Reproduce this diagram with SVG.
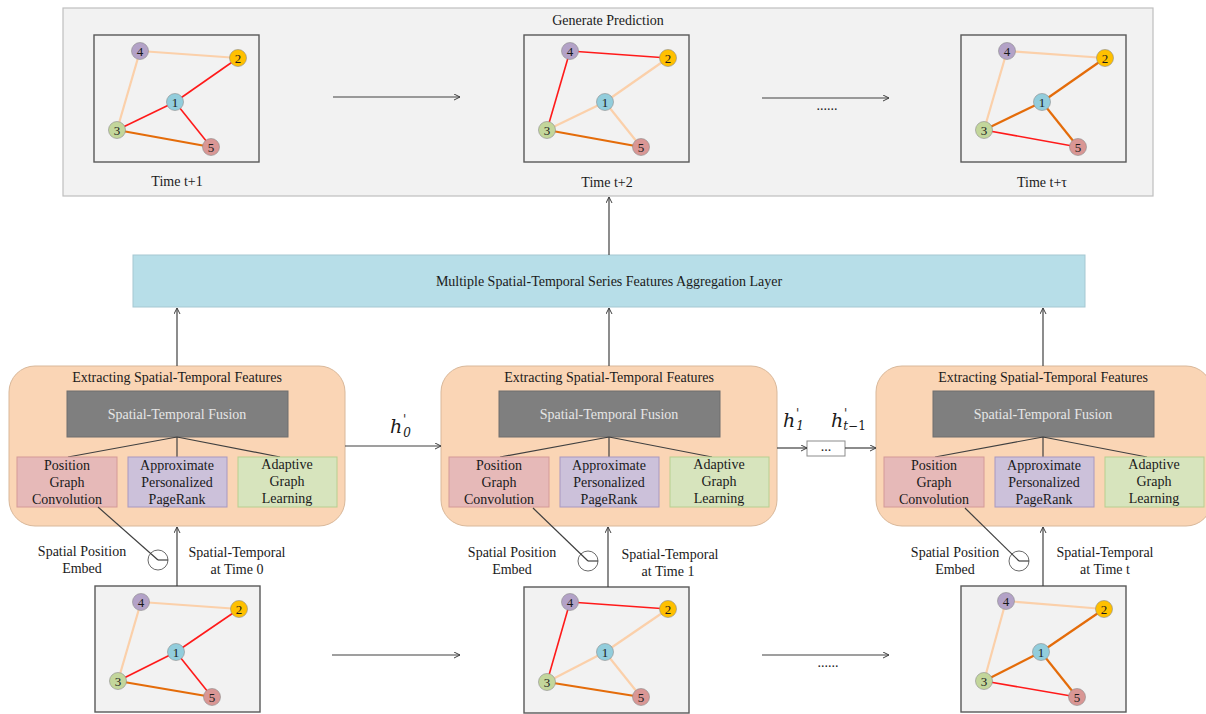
<svg xmlns="http://www.w3.org/2000/svg" width="1206" height="714" viewBox="0 0 1206 714">
<defs>
<marker id="ah" markerWidth="8" markerHeight="8" refX="6" refY="3" orient="auto" markerUnits="userSpaceOnUse">
<path d="M0,0 L6,3 L0,6" fill="none" stroke="#404040" stroke-width="1"/>
</marker>
<style>
text{font-family:"Liberation Serif","Times New Roman",serif;fill:#1a1a1a;font-size:14px;text-anchor:middle}
.panel{fill:#f2f2f2;stroke:#bfbfbf;stroke-width:1.2}
.gbox{fill:#f2f2f2;stroke:#595959;stroke-width:1.4}
.conn{stroke:#404040;stroke-width:1.2;fill:none}
.arr{stroke:#404040;stroke-width:1.2;fill:none;marker-end:url(#ah)}
.ep{stroke:#fbd0aa;stroke-width:2.2}
.er{stroke:#ff1a1a;stroke-width:1.6}
.eo{stroke:#e46c0a;stroke-width:2.2}
.n{stroke:#8c8c8c;stroke-width:0.6}
.n1{fill:#92cddc}.n2{fill:#ffc000}.n3{fill:#c3d69b}.n4{fill:#b3a2c7}.n5{fill:#d99694}
.nt{font-size:13px}
.agg{fill:#b7dee8;stroke:#a5c8d2;stroke-width:1}
.mod{fill:#fad5b5;stroke:#d9b89a;stroke-width:1}
.fus{fill:#7f7f7f;stroke:#6f6f6f;stroke-width:1}
.fust{fill:#e6e6e6}
.pgc{fill:#e6b9b8;stroke:#d49a98;stroke-width:1}
.appr{fill:#ccc1da;stroke:#a898c0;stroke-width:1}
.agl{fill:#d7e4bd;stroke:#b8cf90;stroke-width:1}
.emb{fill:#ffffff;stroke:#595959;stroke-width:0.9}
.hl{font-family:"DejaVu Serif","Liberation Serif",serif;font-style:italic;font-size:19px;text-anchor:start}
.sub{font-size:12px}
.pr{font-size:12px;font-style:normal}
</style>
</defs>

<g id="prediction-panel">
<rect class="panel" x="63" y="8" width="1090" height="188"/>
<text x="608" y="25" font-size="13.5">Generate Prediction</text>
</g>

<g id="graph-t1" transform="translate(94,35)">
<rect class="gbox" x="0" y="0" width="165" height="127"/>
<line class="ep" x1="46" y1="16" x2="144" y2="23"/>
<line class="ep" x1="46" y1="16" x2="23" y2="95"/>
<line class="er" x1="144" y1="23" x2="81" y2="67"/>
<line class="er" x1="81" y1="67" x2="23" y2="95"/>
<line class="er" x1="81" y1="67" x2="117" y2="112"/>
<line class="eo" x1="23" y1="95" x2="117" y2="112"/>
<circle class="n n4" cx="46" cy="16" r="8.5"/><text class="nt" x="46" y="20.5">4</text>
<circle class="n n2" cx="144" cy="23" r="8.5"/><text class="nt" x="144" y="27.5">2</text>
<circle class="n n1" cx="81" cy="67" r="8.5"/><text class="nt" x="81" y="71.5">1</text>
<circle class="n n3" cx="23" cy="95" r="8.5"/><text class="nt" x="23" y="99.5">3</text>
<circle class="n n5" cx="117" cy="112" r="8.5"/><text class="nt" x="117" y="116.5">5</text>
<text x="83" y="151">Time t+1</text>
</g>

<g id="graph-t2" transform="translate(524,35)">
<rect class="gbox" x="0" y="0" width="165" height="127"/>
<line class="er" x1="46" y1="16" x2="144" y2="23"/>
<line class="er" x1="46" y1="16" x2="23" y2="95"/>
<line class="ep" x1="144" y1="23" x2="81" y2="67"/>
<line class="ep" x1="81" y1="67" x2="23" y2="95"/>
<line class="ep" x1="81" y1="67" x2="117" y2="112"/>
<line class="eo" x1="23" y1="95" x2="117" y2="112"/>
<circle class="n n4" cx="46" cy="16" r="8.5"/><text class="nt" x="46" y="20.5">4</text>
<circle class="n n2" cx="144" cy="23" r="8.5"/><text class="nt" x="144" y="27.5">2</text>
<circle class="n n1" cx="81" cy="67" r="8.5"/><text class="nt" x="81" y="71.5">1</text>
<circle class="n n3" cx="23" cy="95" r="8.5"/><text class="nt" x="23" y="99.5">3</text>
<circle class="n n5" cx="117" cy="112" r="8.5"/><text class="nt" x="117" y="116.5">5</text>
<text x="83" y="152">Time t+2</text>
</g>

<g id="graph-ttau" transform="translate(961,35)">
<rect class="gbox" x="0" y="0" width="165" height="127"/>
<line class="ep" x1="46" y1="16" x2="144" y2="23"/>
<line class="ep" x1="46" y1="16" x2="23" y2="95"/>
<line class="eo" x1="144" y1="23" x2="81" y2="67"/>
<line class="eo" x1="81" y1="67" x2="23" y2="95"/>
<line class="eo" x1="81" y1="67" x2="117" y2="112"/>
<line class="er" x1="23" y1="95" x2="117" y2="112"/>
<circle class="n n4" cx="46" cy="16" r="8.5"/><text class="nt" x="46" y="20.5">4</text>
<circle class="n n2" cx="144" cy="23" r="8.5"/><text class="nt" x="144" y="27.5">2</text>
<circle class="n n1" cx="81" cy="67" r="8.5"/><text class="nt" x="81" y="71.5">1</text>
<circle class="n n3" cx="23" cy="95" r="8.5"/><text class="nt" x="23" y="99.5">3</text>
<circle class="n n5" cx="117" cy="112" r="8.5"/><text class="nt" x="117" y="116.5">5</text>
<text x="81" y="152">Time t+τ</text>
</g>

<g id="aggregation">
<rect class="agg" x="133" y="255" width="952" height="52"/>
<text x="609" y="286">Multiple Spatial-Temporal Series Features Aggregation Layer</text>
</g>

<g id="module-0">
<rect class="mod" x="9" y="366" width="336" height="160" rx="26" ry="26"/>
<text x="177" y="382" font-size="13.5">Extracting Spatial-Temporal Features</text>
<rect class="fus" x="67" y="391" width="221" height="46"/>
<text class="fust" x="177" y="419">Spatial-Temporal Fusion</text>
<line class="conn" x1="177" y1="437" x2="68" y2="457"/>
<line class="conn" x1="177" y1="437" x2="177" y2="457"/>
<line class="conn" x1="177" y1="437" x2="280" y2="457"/>
<rect class="pgc" x="17" y="457" width="100" height="50"/>
<text x="67" y="470">Position</text><text x="67" y="487">Graph</text><text x="67" y="504">Convolution</text>
<rect class="appr" x="128" y="457" width="99" height="50"/>
<text x="177" y="470">Approximate</text><text x="177" y="487">Personalized</text><text x="177" y="504">PageRank</text>
<rect class="agl" x="238" y="457" width="99" height="50"/>
<text x="287" y="469">Adaptive</text><text x="287" y="486">Graph</text><text x="287" y="503">Learning</text>
</g>

<g id="module-1">
<rect class="mod" x="441" y="366" width="336" height="160" rx="26" ry="26"/>
<text x="609" y="382" font-size="13.5">Extracting Spatial-Temporal Features</text>
<rect class="fus" x="499" y="391" width="221" height="46"/>
<text class="fust" x="609" y="419">Spatial-Temporal Fusion</text>
<line class="conn" x1="609" y1="437" x2="500" y2="457"/>
<line class="conn" x1="609" y1="437" x2="609" y2="457"/>
<line class="conn" x1="609" y1="437" x2="712" y2="457"/>
<rect class="pgc" x="449" y="457" width="100" height="50"/>
<text x="499" y="470">Position</text><text x="499" y="487">Graph</text><text x="499" y="504">Convolution</text>
<rect class="appr" x="560" y="457" width="99" height="50"/>
<text x="609" y="470">Approximate</text><text x="609" y="487">Personalized</text><text x="609" y="504">PageRank</text>
<rect class="agl" x="670" y="457" width="99" height="50"/>
<text x="719" y="469">Adaptive</text><text x="719" y="486">Graph</text><text x="719" y="503">Learning</text>
</g>

<g id="module-t">
<rect class="mod" x="876" y="366" width="336" height="160" rx="26" ry="26"/>
<text x="1043" y="382" font-size="13.5">Extracting Spatial-Temporal Features</text>
<rect class="fus" x="933" y="391" width="221" height="46"/>
<text class="fust" x="1043" y="419">Spatial-Temporal Fusion</text>
<line class="conn" x1="1043" y1="437" x2="935" y2="457"/>
<line class="conn" x1="1043" y1="437" x2="1043" y2="457"/>
<line class="conn" x1="1043" y1="437" x2="1147" y2="457"/>
<rect class="pgc" x="884" y="457" width="100" height="50"/>
<text x="934" y="470">Position</text><text x="934" y="487">Graph</text><text x="934" y="504">Convolution</text>
<rect class="appr" x="995" y="457" width="99" height="50"/>
<text x="1044" y="470">Approximate</text><text x="1044" y="487">Personalized</text><text x="1044" y="504">PageRank</text>
<rect class="agl" x="1105" y="457" width="99" height="50"/>
<text x="1154" y="469">Adaptive</text><text x="1154" y="486">Graph</text><text x="1154" y="503">Learning</text>
</g>

<g id="embed-0">
<circle class="emb" cx="158" cy="560" r="10"/>
<text x="82" y="556">Spatial Position</text><text x="82" y="573">Embed</text>
<text x="237" y="557">Spatial-Temporal</text><text x="237" y="574">at Time 0</text>
</g>
<g id="embed-1">
<circle class="emb" cx="588" cy="561" r="10"/>
<text x="512" y="557">Spatial Position</text><text x="512" y="574">Embed</text>
<text x="670" y="559">Spatial-Temporal</text><text x="668" y="576">at Time 1</text>
</g>
<g id="embed-t">
<circle class="emb" cx="1019" cy="561" r="10"/>
<text x="955" y="557">Spatial Position</text><text x="955" y="574">Embed</text>
<text x="1105" y="557">Spatial-Temporal</text><text x="1105" y="574">at Time t</text>
</g>

<g id="ellipsis-box">
<rect x="807" y="441" width="38" height="15" fill="#ffffff" stroke="#8c8c8c" stroke-width="1"/>
<text x="826" y="451" font-size="12">...</text>
</g>

<g id="hidden-labels">
<text class="hl" x="390" y="433">h<tspan class="sub" dx="1" dy="4">0</tspan><tspan class="pr" x="403" y="424">'</tspan></text>
<text class="hl" x="783" y="427">h<tspan class="sub" dx="1" dy="3">1</tspan><tspan class="pr" x="796" y="418">'</tspan></text>
<text class="hl" x="831" y="427">h<tspan class="sub" dy="3">t</tspan><tspan class="sub" font-style="normal">−1</tspan><tspan class="pr" x="844" y="418">'</tspan></text>
</g>

<g id="graph-0" transform="translate(95,586)">
<rect class="gbox" x="0" y="0" width="165" height="126"/>
<line class="ep" x1="46" y1="16" x2="144" y2="23"/>
<line class="ep" x1="46" y1="16" x2="23" y2="95"/>
<line class="er" x1="144" y1="23" x2="81" y2="66"/>
<line class="er" x1="81" y1="66" x2="23" y2="95"/>
<line class="er" x1="81" y1="66" x2="117" y2="111"/>
<line class="eo" x1="23" y1="95" x2="117" y2="111"/>
<circle class="n n4" cx="46" cy="16" r="8.5"/><text class="nt" x="46" y="20.5">4</text>
<circle class="n n2" cx="144" cy="23" r="8.5"/><text class="nt" x="144" y="27.5">2</text>
<circle class="n n1" cx="81" cy="66" r="8.5"/><text class="nt" x="81" y="70.5">1</text>
<circle class="n n3" cx="23" cy="95" r="8.5"/><text class="nt" x="23" y="99.5">3</text>
<circle class="n n5" cx="117" cy="111" r="8.5"/><text class="nt" x="117" y="115.5">5</text>
</g>

<g id="graph-1" transform="translate(524,587)">
<rect class="gbox" x="0" y="0" width="165" height="126"/>
<line class="er" x1="46" y1="15" x2="144" y2="22"/>
<line class="er" x1="46" y1="15" x2="23" y2="95"/>
<line class="ep" x1="144" y1="22" x2="81" y2="65"/>
<line class="ep" x1="81" y1="65" x2="23" y2="95"/>
<line class="ep" x1="81" y1="65" x2="117" y2="110"/>
<line class="eo" x1="23" y1="95" x2="117" y2="110"/>
<circle class="n n4" cx="46" cy="15" r="8.5"/><text class="nt" x="46" y="19.5">4</text>
<circle class="n n2" cx="144" cy="22" r="8.5"/><text class="nt" x="144" y="26.5">2</text>
<circle class="n n1" cx="81" cy="65" r="8.5"/><text class="nt" x="81" y="69.5">1</text>
<circle class="n n3" cx="23" cy="95" r="8.5"/><text class="nt" x="23" y="99.5">3</text>
<circle class="n n5" cx="117" cy="110" r="8.5"/><text class="nt" x="117" y="114.5">5</text>
</g>

<g id="graph-t" transform="translate(961,586)">
<rect class="gbox" x="0" y="0" width="165" height="126"/>
<line class="ep" x1="45" y1="15" x2="143" y2="23"/>
<line class="ep" x1="45" y1="15" x2="23" y2="95"/>
<line class="eo" x1="143" y1="23" x2="80" y2="66"/>
<line class="eo" x1="80" y1="66" x2="23" y2="95"/>
<line class="eo" x1="80" y1="66" x2="116" y2="111"/>
<line class="er" x1="23" y1="95" x2="116" y2="111"/>
<circle class="n n4" cx="45" cy="15" r="8.5"/><text class="nt" x="45" y="19.5">4</text>
<circle class="n n2" cx="143" cy="23" r="8.5"/><text class="nt" x="143" y="27.5">2</text>
<circle class="n n1" cx="80" cy="66" r="8.5"/><text class="nt" x="80" y="70.5">1</text>
<circle class="n n3" cx="23" cy="95" r="8.5"/><text class="nt" x="23" y="99.5">3</text>
<circle class="n n5" cx="116" cy="111" r="8.5"/><text class="nt" x="116" y="115.5">5</text>
</g>

<g id="connectors">
<line class="arr" x1="333" y1="97" x2="460" y2="97"/>
<line class="arr" x1="762" y1="98" x2="889" y2="98"/>
<text x="827" y="110" font-size="16">......</text>
<line class="arr" x1="332" y1="655" x2="460" y2="655"/>
<line class="arr" x1="762" y1="655" x2="889" y2="655"/>
<text x="828" y="667" font-size="16">......</text>
<line class="arr" x1="609" y1="255" x2="609" y2="197"/>
<line class="arr" x1="177" y1="366" x2="177" y2="308"/>
<line class="arr" x1="609" y1="366" x2="609" y2="308"/>
<line class="arr" x1="1043" y1="366" x2="1043" y2="308"/>
<line class="arr" x1="177" y1="586" x2="177" y2="527"/>
<line class="arr" x1="608" y1="587" x2="608" y2="527"/>
<line class="arr" x1="1043" y1="586" x2="1043" y2="527"/>
<line class="arr" x1="345" y1="446" x2="441" y2="446"/>
<line class="arr" x1="777" y1="448" x2="807" y2="448"/>
<line class="arr" x1="845" y1="448" x2="876" y2="448"/>
<line class="conn" x1="98" y1="507" x2="158" y2="560"/>
<line class="conn" x1="158" y1="560" x2="168" y2="560"/>
<line class="conn" x1="533" y1="508" x2="588" y2="561"/>
<line class="conn" x1="588" y1="561" x2="598" y2="561"/>
<line class="conn" x1="965" y1="508" x2="1019" y2="561"/>
<line class="conn" x1="1019" y1="561" x2="1029" y2="561"/>
</g>
</svg>
